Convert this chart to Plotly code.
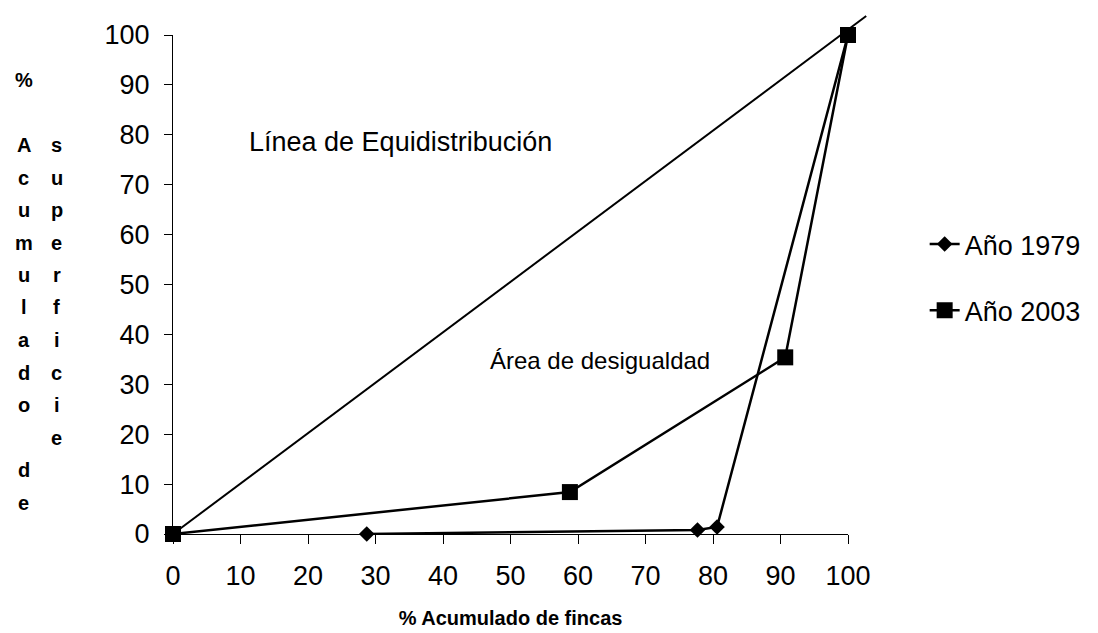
import plotly.graph_objects as go

# ---- data ----
x_1979 = [28.7, 77.7, 80.6, 100]
y_1979 = [0.0, 0.8, 1.4, 100]
x_2003 = [0, 58.8, 90.7, 100]
y_2003 = [0.0, 8.4, 35.4, 100]
equi_x = [0, 102.7]
equi_y = [0, 103.8]
x_ticks = list(range(0, 101, 10))
y_ticks = list(range(0, 101, 10))
y_title_col1 = "% Acumulado de"
y_title_col2 = "superficie"

# page has an 8px body margin, so the figure is drawn 8px right/down
OFF = 8
W, H = 1090, 625
ML, MT = 165, 27
PW, PH = 678, 499
MR = W - ML - PW
MB = H - MT - PH

FONT = "Liberation Sans, Arial, sans-serif"


def py(screen_y):
    return (MT + PH + OFF - screen_y) / PH


def pxx(screen_x):
    return (screen_x - OFF - ML) / PW


fig = go.Figure()
fig.add_trace(go.Scatter(
    x=x_1979, y=y_1979, mode="lines+markers", name="Año 1979",
    line=dict(color="black", width=2.5),
    marker=dict(symbol="diamond", size=12, color="black"),
    cliponaxis=False, legendgroup="a"))
fig.add_trace(go.Scatter(
    x=x_2003, y=y_2003, mode="lines+markers", name="Año 2003",
    line=dict(color="black", width=2.5),
    marker=dict(symbol="square", size=16, color="black"),
    cliponaxis=False, legendgroup="b"))

# equidistribution line (extends slightly beyond the axes)
fig.add_shape(type="line", xref="x domain", yref="y domain",
              x0=equi_x[0] / 100, y0=equi_y[0] / 100,
              x1=equi_x[1] / 100, y1=equi_y[1] / 100,
              line=dict(color="black", width=2), layer="below")

annotations = [
    dict(x=11.0, y=78.6, xref="x", yref="y", text="Línea de Equidistribución",
         showarrow=False, xanchor="left", yanchor="middle",
         font=dict(size=27, color="black", family=FONT)),
    dict(x=79.9, y=34.8, xref="x", yref="y", text="Área de desigualdad",
         showarrow=False, xanchor="right", yanchor="middle",
         font=dict(size=24, color="black", family=FONT)),
]

for k, ch in enumerate(y_title_col1):
    if ch.strip():
        annotations.append(dict(x=pxx(23), y=py(80 + 32.5 * k), xref="paper", yref="paper",
                                text=f"<b>{ch}</b>", showarrow=False,
                                xanchor="center", yanchor="middle",
                                font=dict(size=20, color="black", family=FONT)))
for k, ch in enumerate(y_title_col2):
    annotations.append(dict(x=pxx(56), y=py(80 + 32.5 * (k + 2)), xref="paper", yref="paper",
                            text=f"<b>{ch}</b>", showarrow=False,
                            xanchor="center", yanchor="middle",
                            font=dict(size=20, color="black", family=FONT)))

fig.update_layout(
    width=W, height=H,
    margin=dict(l=ML, r=MR, t=MT, b=MB),
    paper_bgcolor="white", plot_bgcolor="white",
    font=dict(family=FONT, color="black", size=27),
    showlegend=True,
    legend=dict(x=pxx(928), y=py(220), xanchor="left", yanchor="top",
                font=dict(size=27, color="black", family=FONT),
                tracegroupgap=28, bgcolor="rgba(0,0,0,0)"),
    annotations=annotations,
    xaxis=dict(range=[0, 100], tickmode="array", tickvals=x_ticks,
               showline=True, linecolor="black", linewidth=1,
               ticks="outside", ticklen=9, tickcolor="black",
               showgrid=False, zeroline=False, ticklabelstandoff=9,
               tickfont=dict(size=27, family=FONT), automargin=False,
               title=dict(text="<b>% Acumulado de fincas</b>",
                          font=dict(size=20, family=FONT), standoff=20)),
    yaxis=dict(range=[0, 100], tickmode="array", tickvals=y_ticks,
               showline=True, linecolor="black", linewidth=1,
               ticks="outside", ticklen=8, tickcolor="black",
               showgrid=False, zeroline=False, ticklabelstandoff=9,
               tickfont=dict(size=27, family=FONT), automargin=False),
)

fig.write_html("out.html")
